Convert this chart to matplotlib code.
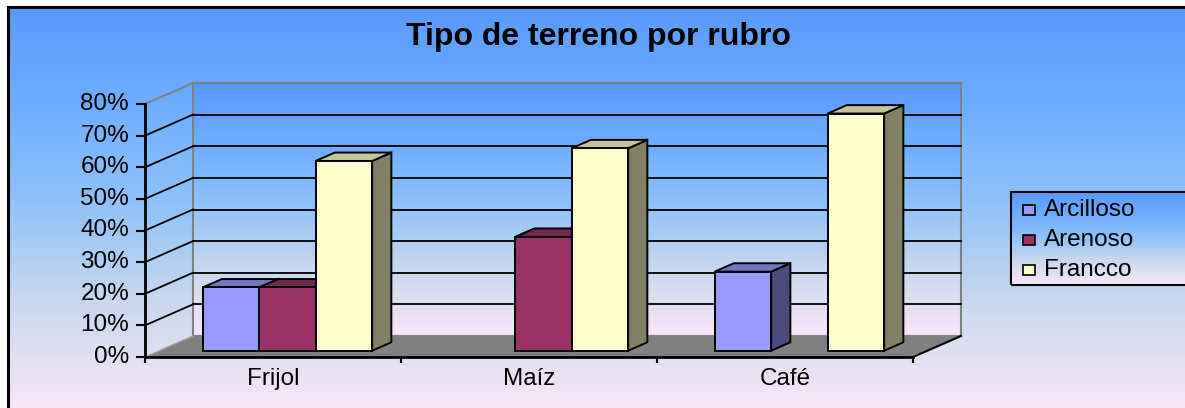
import numpy as np
import matplotlib
matplotlib.use('Agg')
import matplotlib.pyplot as plt
from matplotlib.patches import Polygon, Rectangle
from matplotlib.colors import LinearSegmentedColormap

# data (percent)
categories = ['Frijol', 'Maíz', 'Café']
series_names = ['Arcilloso', 'Arenoso', 'Francco']
arcilloso = [20, 0, 25]
arenoso = [20, 36, 0]
francco = [60, 64, 75]
y_ticks = [0, 10, 20, 30, 40, 50, 60, 70, 80]
y_tick_labels = ['0%', '10%', '20%', '30%', '40%', '50%', '60%', '70%', '80%']

front_colors = ['#9999ff', '#993366', '#ffffcc']
top_colors = ['#7474c8', '#732650', '#c4c49c']
side_colors = ['#4b4b7e', '#4c1932', '#808066']

plt.rcParams['font.family'] = ['Liberation Sans', 'DejaVu Sans']

W, H = 1185, 408
fig = plt.figure(figsize=(W / 100, H / 100), dpi=100, facecolor='white')
ax = fig.add_axes([0, 0, 1, 1])

# one category = 256 px, 1% = 3.1625 px, origin of the front plane at pixel (145, 357)
PX_CAT, PX_PCT, X0, Y0 = 256.0, 3.1625, 145, 357


def px2x(px):
    return (px - X0) / PX_CAT


def py2y(py):
    return (Y0 - py) / PX_PCT


ax.set_xlim(px2x(0), px2x(W))
ax.set_ylim(py2y(H), py2y(0))
ax.axis('off')

DX = 48 / PX_CAT   # depth of the 3d box
DY = 21 / PX_PCT
ncat = len(categories)
ymax = y_ticks[-1]

bg = LinearSegmentedColormap.from_list('bg', [
    (0.0, '#5a9aff'), (0.25, '#6eaeff'), (0.5, '#92c3f8'),
    (0.72, '#c6d6ee'), (0.88, '#e2e0f2'), (1.0, '#f9e6f8')])
grad = np.linspace(0, 1, 256).reshape(-1, 1)

# chart area background + frame
ax.imshow(grad, cmap=bg, aspect='auto', zorder=0,
          extent=[px2x(8), px2x(W), py2y(H), py2y(7)])
ax.plot([px2x(8), px2x(8)], [py2y(7), py2y(H)], color='black', lw=2.2, zorder=1)
ax.plot([px2x(8), px2x(W)], [py2y(7), py2y(7)], color='black', lw=2.2, zorder=1)

# back wall
ax.imshow(grad, cmap=bg, aspect='auto', zorder=1,
          extent=[DX, ncat + DX, DY, ymax + DY])
ax.add_patch(Rectangle((DX, DY), ncat, ymax, fc='none', ec='#808080', lw=1.5, zorder=2))
ax.plot([0, DX], [ymax, ymax + DY], color='#808080', lw=1.5, zorder=2)

for v in y_ticks[1:-1]:
    ax.plot([DX, ncat + DX], [v + DY, v + DY], color='black', lw=1.3, zorder=2)
    ax.plot([0, DX], [v, v + DY], color='black', lw=1.3, zorder=2)

# floor
ax.add_patch(Polygon([(0, 0), (ncat, 0), (ncat + DX, DY), (DX, DY)],
                     closed=True, fc='#808080', ec='none', zorder=2))
ax.plot([0, DX], [0, DY], color='#a0a0a0', lw=1, zorder=3)
ax.plot([ncat, ncat + DX], [0, DY], color='black', lw=1.5, zorder=3)

# axes
ax.plot([0, 0], [0, ymax], color='black', lw=2, zorder=3)
ax.plot([0, ncat], [0, 0], color='black', lw=2, zorder=3)
for v, lab in zip(y_ticks, y_tick_labels):
    ax.plot([px2x(137), 0], [v, v], color='black', lw=1.5, zorder=3)
    ax.text(px2x(129), v, lab, ha='right', va='center', fontsize=17.5, zorder=3)
for j in range(ncat + 1):
    ax.plot([j, j], [0, -5 / PX_PCT], color='black', lw=1.5, zorder=3)
for j, c in enumerate(categories):
    ax.text(j + 0.5, py2y(379), c, ha='center', va='center', fontsize=17.5, zorder=3)

# 3d bars
values = [arcilloso, arenoso, francco]
w = 0.2207
gap = 1 - len(values) * w
f0, dd = 0.3, 0.4
z = 10
for j in range(ncat):
    for i, vals in enumerate(values):
        v = vals[j]
        if v <= 0:
            continue
        x = j + gap / 2 + i * w + f0 * DX
        y = f0 * DY
        ex, ey = dd * DX, dd * DY
        ax.add_patch(Polygon([(x + w, y), (x + w + ex, y + ey), (x + w + ex, y + v + ey), (x + w, y + v)],
                             closed=True, fc=side_colors[i], ec='black', lw=1.4, zorder=z))
        ax.add_patch(Polygon([(x, y + v), (x + w, y + v), (x + w + ex, y + v + ey), (x + ex, y + v + ey)],
                             closed=True, fc=top_colors[i], ec='black', lw=1.4, zorder=z + 1))
        ax.add_patch(Rectangle((x, y), w, v, fc=front_colors[i], ec='black', lw=1.4, zorder=z + 2))
        z += 3

# title
fig.text(598 / W, 1 - 37 / H, 'Tipo de terreno por rubro', ha='center', va='center',
         fontsize=23, fontweight='bold')

# legend box with its own gradient
lx0, lx1, ly0, ly1 = 1011, W + 5, 192, 285
ax.imshow(grad, cmap=bg, aspect='auto', zorder=50,
          extent=[px2x(lx0), px2x(lx1), py2y(ly1), py2y(ly0)])
ax.add_patch(Rectangle((px2x(lx0), py2y(ly1)), px2x(lx1) - px2x(lx0), py2y(ly0) - py2y(ly1),
                       fc='none', ec='black', lw=1.5, zorder=51, clip_on=False))
for k, name in enumerate(series_names):
    cy = 210 + 30 * k
    ax.add_patch(Rectangle((px2x(1023), py2y(cy + 5)), 12 / PX_CAT, 10 / PX_PCT,
                           fc=front_colors[k], ec='black', lw=1.2, zorder=52))
    ax.text(px2x(1044), py2y(cy), name, ha='left', va='center', fontsize=17.5, zorder=52)

fig.savefig('out.png', dpi=100, facecolor='white')
